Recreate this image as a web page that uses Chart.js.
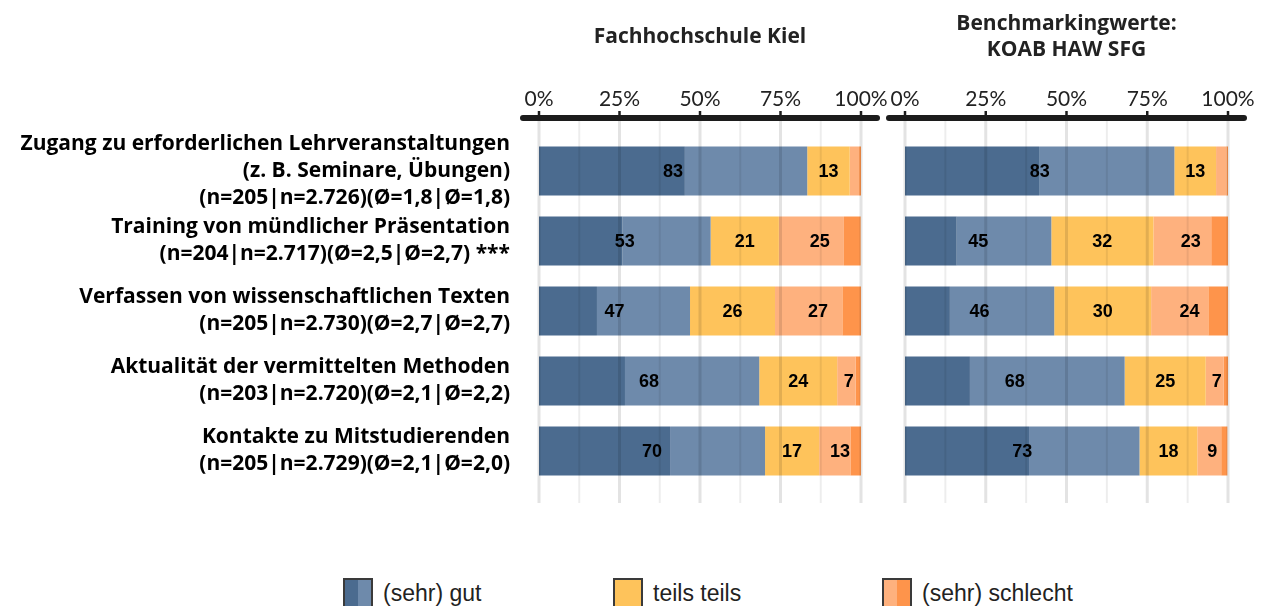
<!DOCTYPE html>
<html lang="de">
<head>
<meta charset="utf-8">
<title>Bewertung Studienangebot</title>
<script src="https://cdn.jsdelivr.net/npm/chart.js@4.4.1/dist/chart.umd.min.js"></script>
<style>
  body { margin: 0; background: #fff; width: 1268px; height: 606px; overflow: hidden; position: relative; }
  #caja1 { position: absolute; left: 0; top: 0; width: 900px; height: 560px; }
  #caja2 { position: absolute; left: 870px; top: 0; width: 398px; height: 560px; }
  .item { position: absolute; top: 578px; height: 30px; display: flex; align-items: center;
          font-family: "Liberation Sans", Arial, sans-serif; font-size: 23px; color: #222; white-space: nowrap; }
  .muestra { width: 26px; height: 26px; border: 2px solid #3a3a3a; margin-right: 10px; box-sizing: content-box; }
</style>
</head>
<body>
<div id="caja1"><canvas id="grafico1"></canvas></div>
<div id="caja2"><canvas id="grafico2"></canvas></div>
<div id="leyenda"></div>

<script>
const categorias = [
    ['Zugang zu erforderlichen Lehrveranstaltungen', '(z. B. Seminare, Übungen)', '(n=205|n=2.726)(Ø=1,8|Ø=1,8)'],
    ['Training von mündlicher Präsentation', '(n=204|n=2.717)(Ø=2,5|Ø=2,7) ***'],
    ['Verfassen von wissenschaftlichen Texten', '(n=205|n=2.730)(Ø=2,7|Ø=2,7)'],
    ['Aktualität der vermittelten Methoden', '(n=203|n=2.720)(Ø=2,1|Ø=2,2)'],
    ['Kontakte zu Mitstudierenden', '(n=205|n=2.729)(Ø=2,1|Ø=2,0)']
];

const titulos = ['Fachhochschule Kiel', ['Benchmarkingwerte:', 'KOAB HAW SFG']];
const etiquetasLeyenda = ['(sehr) gut', 'teils teils', '(sehr) schlecht'];
const nombresSerie = ['sehr gut', 'gut', 'teils teils', 'schlecht', 'sehr schlecht'];

// Fachhochschule Kiel (Prozent)
const kielSehrGut = [45.3, 25.9, 18.0, 26.7, 40.7];
const kielGut = [38.0, 27.4, 28.9, 41.7, 29.5];
const kielTeils = [13.2, 21.2, 26.4, 24.2, 16.8];
const kielSchlecht = [2.9, 20.2, 20.9, 5.7, 9.7];
const kielSehrSchlecht = [0.6, 5.2, 5.8, 1.5, 3.3];

// Benchmarkingwerte KOAB HAW SFG (Prozent)
const koabSehrGut = [41.5, 16.0, 13.9, 20.1, 38.4];
const koabGut = [41.9, 29.3, 32.3, 47.9, 34.2];
const koabTeils = [12.9, 31.6, 30.0, 25.1, 17.9];
const koabSchlecht = [3.2, 17.9, 17.7, 5.5, 7.4];
const koabSehrSchlecht = [0.5, 5.2, 6.1, 1.4, 1.9];

const colores = ['#4b6b8f', '#6e8aab', '#fec35b', '#feb17e', '#fe944b'];

// grupos de etiquetas: azul (0+1), amarillo (2), naranja (3+4)
const grupos = [[0, 1], [2], [3, 4]];

const pluginDibujo = {
    id: 'dibujo',
    afterDatasetsDraw(chart) {
        const ctx = chart.ctx;
        const x = chart.scales.x;
        const area = chart.chartArea;
        const arriba = area.top - 17;
        const abajo = area.bottom + 17;

        ctx.save();
        // rejilla por encima de las barras
        x.ticks.forEach(t => {
            const px = x.getPixelForValue(t.value);
            const mayor = t.value % 25 === 0;
            ctx.strokeStyle = mayor ? 'rgba(0,0,0,0.11)' : 'rgba(0,0,0,0.07)';
            ctx.lineWidth = mayor ? 3 : 2;
            ctx.beginPath();
            ctx.moveTo(px, arriba);
            ctx.lineTo(px, abajo);
            ctx.stroke();
        });

        // eje superior grueso
        const y0 = arriba - 1;
        ctx.strokeStyle = '#1c1c1c';
        ctx.lineCap = 'round';
        ctx.lineWidth = 6;
        ctx.beginPath();
        ctx.moveTo(x.getPixelForValue(0) - 16, y0);
        ctx.lineTo(x.getPixelForValue(100) + 16, y0);
        ctx.stroke();
        ctx.lineCap = 'butt';
        ctx.lineWidth = 2.5;
        x.ticks.forEach(t => {
            if (t.value % 25 !== 0) return;
            const px = x.getPixelForValue(t.value);
            ctx.beginPath();
            ctx.moveTo(px, y0 - 7);
            ctx.lineTo(px, y0);
            ctx.stroke();
        });

        // etiquetas de valores
        ctx.fillStyle = '#000';
        ctx.font = 'bold 18px "Liberation Sans", Arial, sans-serif';
        ctx.textAlign = 'center';
        ctx.textBaseline = 'middle';
        const ds = chart.data.datasets;
        const barras = chart.getDatasetMeta(0).data;
        barras.forEach((barra, i) => {
            let inicio = 0;
            grupos.forEach(g => {
                const suma = g.reduce((s, k) => s + ds[k].data[i], 0);
                const valor = Math.round(suma);
                if (valor >= 5) {
                    const centro = x.getPixelForValue(inicio + suma / 2);
                    ctx.fillText(String(valor), centro, barra.y + 1);
                }
                inicio += suma;
            });
        });
        ctx.restore();
    }
};

function generarGrafico(idCanvas, titulo, series, conEtiquetas) {
    const ctx = document.getElementById(idCanvas).getContext('2d');
    const conjuntos = series.map((valores, k) => ({
        label: nombresSerie[k],
        data: valores,
        backgroundColor: colores[k],
        borderWidth: 0,
        barPercentage: 0.7,
        categoryPercentage: 1.0
    }));
    const lineas = Array.isArray(titulo) ? 2 : 1;

    return new Chart(ctx, {
        type: 'bar',
        data: { labels: categorias, datasets: conjuntos },
        plugins: [pluginDibujo],
        options: {
            indexAxis: 'y',
            responsive: true,
            maintainAspectRatio: false,
            animation: false,
            layout: {
                padding: conEtiquetas
                    ? { top: 0, left: 0, right: 39, bottom: 74 }
                    : { top: 0, left: 35, right: 40, bottom: 74 }
            },
            plugins: {
                legend: { display: false },
                tooltip: { enabled: false },
                title: {
                    display: true,
                    text: titulo,
                    fullSize: false,
                    color: '#222',
                    font: { family: 'Open Sans', size: 21, weight: 'bold', lineHeight: 1.238 },
                    padding: lineas === 1 ? { top: 24, bottom: 30 } : { top: 11, bottom: 17 }
                }
            },
            scales: {
                x: {
                    position: 'top',
                    stacked: true,
                    min: 0,
                    max: 100,
                    grid: { display: false, drawTicks: false },
                    border: { display: false },
                    ticks: {
                        stepSize: 12.5,
                        autoSkip: false,
                        maxRotation: 0,
                        padding: 24,
                        color: '#222',
                        font: { family: 'Lato', size: 21 },
                        callback: v => (v % 25 === 0 ? v + '%' : '')
                    },
                    afterFit(scale) {
                        scale.height = 56;
                        scale.paddingLeft = 0;
                        scale.paddingRight = 0;
                    }
                },
                y: {
                    stacked: true,
                    display: conEtiquetas,
                    grid: { display: false, drawTicks: false },
                    border: { display: false },
                    ticks: {
                        autoSkip: false,
                        padding: 29,
                        color: '#000',
                        font: { family: 'Open Sans', size: 21, weight: 'bold', lineHeight: 1.286 }
                    },
                    afterFit(scale) {
                        if (conEtiquetas) scale.width = 539;
                        scale.paddingTop = 0;
                        scale.paddingBottom = 0;
                    }
                }
            }
        }
    });
}

generarGrafico('grafico1', titulos[0],
    [kielSehrGut, kielGut, kielTeils, kielSchlecht, kielSehrSchlecht], true);
generarGrafico('grafico2', titulos[1],
    [koabSehrGut, koabGut, koabTeils, koabSchlecht, koabSehrSchlecht], false);

// leyenda: tres grupos con cuadro partido en dos colores
const posicionesLeyenda = [343, 613, 882];
const divLeyenda = document.getElementById('leyenda');
grupos.forEach((g, n) => {
    const a = colores[g[0]];
    const b = colores[g[g.length - 1]];
    const item = document.createElement('div');
    item.className = 'item';
    item.style.left = posicionesLeyenda[n] + 'px';
    const muestra = document.createElement('span');
    muestra.className = 'muestra';
    muestra.style.background = `linear-gradient(90deg, ${a} 50%, ${b} 50%)`;
    item.appendChild(muestra);
    item.appendChild(document.createTextNode(etiquetasLeyenda[n]));
    divLeyenda.appendChild(item);
});
</script>
</body>
</html>
